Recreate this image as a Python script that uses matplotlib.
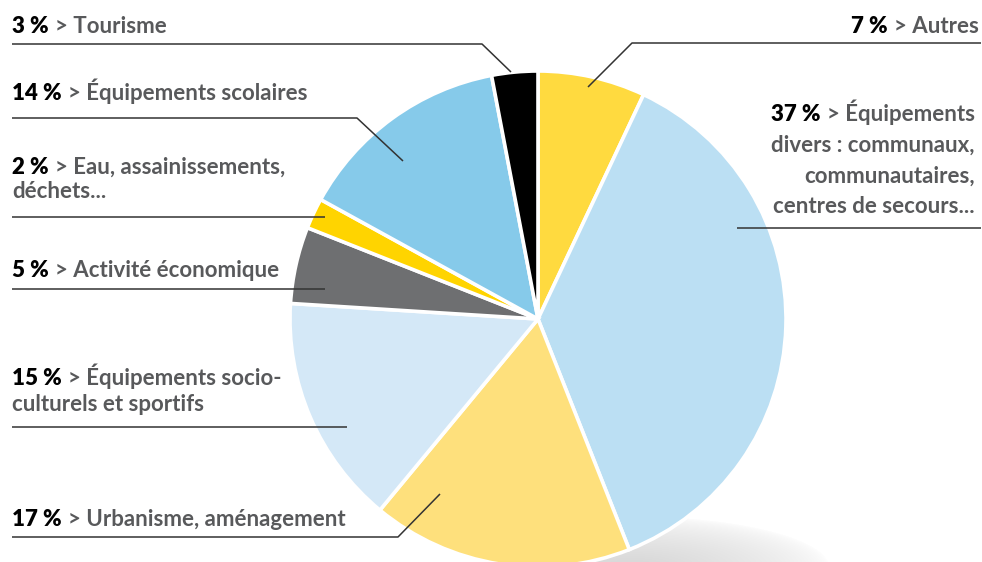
import matplotlib
matplotlib.use("Agg")
import matplotlib.pyplot as plt
import numpy as np

# ---- data ----
categories = ["Autres", "Équipements divers", "Urbanisme, aménagement",
              "Équipements socio-culturels et sportifs", "Activité économique",
              "Eau, assainissements, déchets", "Équipements scolaires", "Tourisme"]
values = [7, 37, 17, 15, 5, 2, 14, 3]
colors = ["#FFDA3F", "#BBDFF3", "#FEE07C", "#D4E8F7", "#6E6F71",
          "#FFD400", "#86CAEA", "#000000"]
pct_labels = ["7 %", "37 %", "17 %", "15 %", "5 %", "2 %", "14 %", "3 %"]
label_lines = [
    ["> Autres"],
    ["> Équipements", "divers : communaux,", "communautaires,", "centres de secours..."],
    ["> Urbanisme, aménagement"],
    ["> Équipements socio-", "culturels et sportifs"],
    ["> Activité économique"],
    ["> Eau, assainissements,", "déchets..."],
    ["> Équipements scolaires"],
    ["> Tourisme"],
]

FAM = ["Lato", "DejaVu Sans"]
FS = 16
GRAY = "#58595B"

fig = plt.figure(figsize=(9.82, 5.62), dpi=100)
ax = fig.add_axes([0, 0, 1, 1])

# shadow
xs = np.linspace(540, 860, 320)
ys = np.linspace(490, 562, 72)
X, Y = np.meshgrid(xs, ys)
d = np.sqrt(((X - 630) / 200.0) ** 2 + ((Y - 568) / 52.0) ** 2)
alpha = np.clip(1 - d, 0, 1) ** 0.6 * 0.32
img = np.zeros((len(ys), len(xs), 4))
img[..., :3] = 0.5
img[..., 3] = alpha
ax.imshow(img, extent=(540, 860, 562, 490), origin="upper", zorder=0, aspect="auto")

cx, cy, r = 538, 319, 248
ax.pie(values, colors=colors, startangle=270, counterclock=True,
       center=(cx, cy), radius=r, frame=True,
       wedgeprops=dict(edgecolor="white", linewidth=2.6))
ax.set_xlim(0, 982)
ax.set_ylim(562, 0)
ax.set_aspect("equal")
ax.axis("off")

renderer = fig.canvas.get_renderer()

def width_of(t):
    bb = t.get_window_extent(renderer=renderer)
    return bb.width

GAP = 6

def left_label(x, baselines, pct, lines):
    t = ax.text(x, baselines[0], pct, fontsize=FS, fontweight="heavy", family=FAM,
                color="black", va="baseline", ha="left", zorder=5)
    w = width_of(t)
    ax.text(x + w + GAP, baselines[0], lines[0], fontsize=FS, fontweight="bold",
            family=FAM, color=GRAY, va="baseline", ha="left", zorder=5)
    for b, ln in zip(baselines[1:], lines[1:]):
        ax.text(x, b, ln, fontsize=FS, fontweight="bold", family=FAM, color=GRAY,
                va="baseline", ha="left", zorder=5)

def right_label(x, baselines, pct, lines):
    t = ax.text(x, baselines[0], lines[0], fontsize=FS, fontweight="bold", family=FAM,
                color=GRAY, va="baseline", ha="right", zorder=5)
    w = width_of(t)
    ax.text(x - w - GAP, baselines[0], pct, fontsize=FS, fontweight="heavy",
            family=FAM, color="black", va="baseline", ha="right", zorder=5)
    for b, ln in zip(baselines[1:], lines[1:]):
        ax.text(x, b, ln, fontsize=FS, fontweight="bold", family=FAM, color=GRAY,
                va="baseline", ha="right", zorder=5)

# label layout: (index, side, x, baselines)
layout = [
    (0, "R", 979, [33]),
    (1, "R", 975, [121, 152, 183, 213]),
    (2, "L", 12, [526]),
    (3, "L", 12, [385, 411]),
    (4, "L", 12, [277]),
    (5, "L", 12, [174, 198]),
    (6, "L", 12, [100]),
    (7, "L", 12, [33]),
]
for i, side, x, bl in layout:
    if side == "L":
        left_label(x, bl, pct_labels[i], label_lines[i])
    else:
        right_label(x, bl, pct_labels[i], label_lines[i])

# leader lines
LC = "#333333"
LW = 1.1
leaders = [
    [(981, 43), (632, 43), (588, 87)],
    [(981, 228), (737, 228)],
    [(12, 537), (398, 537), (440, 494)],
    [(12, 427), (347, 427)],
    [(12, 289), (325, 289)],
    [(12, 217), (325, 217)],
    [(12, 118), (357, 118), (403, 161)],
    [(12, 44), (482, 44), (511, 72)],
]
for pts in leaders:
    xx, yy = zip(*pts)
    ax.plot(xx, yy, color=LC, lw=LW, zorder=4, solid_capstyle="butt")

fig.savefig("out.png", dpi=100)
